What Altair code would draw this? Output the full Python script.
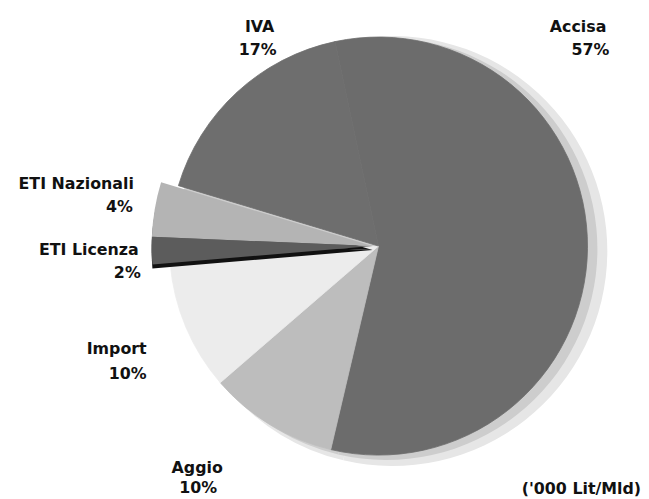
import math
import altair as alt
import pandas as pd

# ---- data ----
categories = ["Accisa", "Aggio", "Import", "ETI Licenza", "ETI Nazionali", "IVA"]
shares = [57, 10, 10, 2, 4, 17]
pct_labels = ["57%", "10%", "10%", "2%", "4%", "17%"]
note_text = "('000 Lit/Mld)"

# ---- styles / layout ----
colors = ["#6c6c6c", "#bdbdbd", "#ececec", "#5c5c5c", "#b4b4b4", "#6e6e6e"]
exploded = ["ETI Licenza", "ETI Nazionali"]
START = math.radians(-12)
CX, CY, R = 374, 238, 211
FONT = "DejaVu Sans"

# label anchors (page px, minus 8px margin), alignment
label_layout = {
    "Accisa":        ("right",  612, 30, 615, 53),
    "IVA":           ("center", 262, 30, 260, 53),
    "ETI Nazionali": ("right",  135, 188, 134, 212),
    "ETI Licenza":   ("right",  140, 255, 142, 278),
    "Import":        ("right",  148, 355, 148, 380),
    "Aggio":         ("center", 199, 475, 200, 495),
}

df = pd.DataFrame({"cat": categories, "share": shares, "order": list(range(len(categories)))})

theta_scale = alt.Scale(domain=[0, 100], range=[START, START + 2 * math.pi])
cscale = alt.Scale(domain=categories, range=colors)
color = alt.Color("cat:N", scale=cscale, legend=None)
stroke = alt.Stroke("cat:N", scale=cscale, legend=None)

base = alt.Chart(df).transform_window(
    cum="sum(share)", sort=[alt.SortField("order")], frame=[None, 0]
).transform_calculate(start="datum.cum - datum.share")

def arc_enc(x, y):
    return dict(
        theta=alt.Theta("start:Q", scale=theta_scale, stack=None),
        theta2="cum:Q",
        x=alt.value(x),
        y=alt.value(y),
    )

shadow_outer = base.mark_arc(outerRadius=R + 6, fill="#e6e6e6", strokeWidth=0).encode(**arc_enc(CX + 14, CY + 5))
shadow_inner = base.mark_arc(outerRadius=R + 2, fill="#cdcdcd", strokeWidth=0).encode(**arc_enc(CX + 8, CY + 3))

is_expl = alt.FieldOneOfPredicate(field="cat", oneOf=exploded)
main = base.transform_filter(~is_expl).mark_arc(outerRadius=R, strokeWidth=0.8).encode(
    color=color, stroke=stroke, **arc_enc(CX, CY)
)
eti_side = base.transform_filter(is_expl).mark_arc(outerRadius=R + 12, fill="#111111", strokeWidth=0).encode(
    **arc_enc(CX - 6, CY + 4)
)
eti_top = base.transform_filter(is_expl).mark_arc(outerRadius=R + 12, strokeWidth=0).encode(
    color=color, **arc_enc(CX - 6, CY)
)

rows = []
for cat, pct in zip(categories, pct_labels):
    al, nx, ny, px, py = label_layout[cat]
    rows.append({"t": cat, "x": nx - 8, "y": ny - 8, "al": al})
    rows.append({"t": pct, "x": px - 8, "y": py - 8, "al": al})
rows.append({"t": note_text, "x": 647 - 8, "y": 496 - 8, "al": "right"})
lab = pd.DataFrame(rows)

def text_layer(al):
    return alt.Chart(lab).transform_filter(alt.datum.al == al).mark_text(
        align=al, baseline="alphabetic", font=FONT, fontSize=16, fontWeight="bold", color="#111111"
    ).encode(
        x=alt.X("x:Q", scale=None),
        y=alt.Y("y:Q", scale=None),
        text="t:N",
    )

chart = alt.layer(
    shadow_outer, shadow_inner, main, eti_side, eti_top, text_layer("right"), text_layer("center")
).properties(width=633, height=483).configure(padding=0).configure_view(stroke=None)

chart.save("out.html", embed_options={"renderer": "svg", "actions": False})
